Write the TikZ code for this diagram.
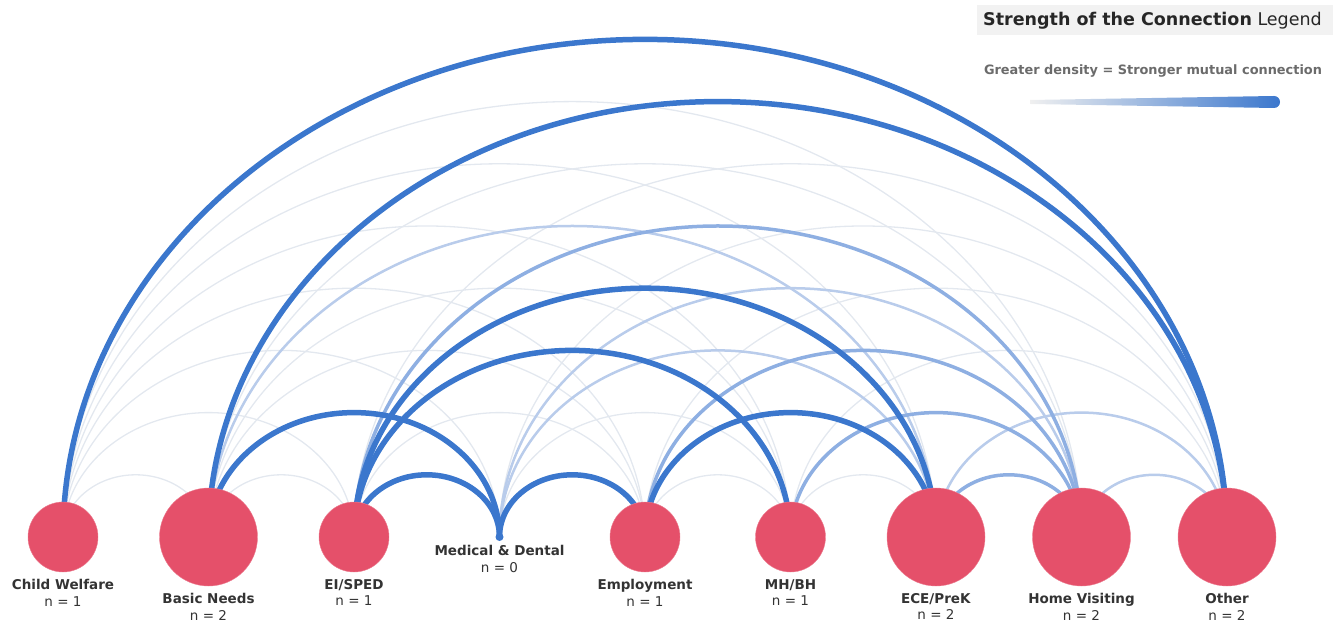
\documentclass[tikz,border=0pt]{standalone}
\usepackage{fontspec}
\setmainfont{DejaVu Sans}
\usetikzlibrary{calc,positioning,backgrounds}
\definecolor{hubred}{HTML}{E5506A}
\definecolor{arcdark}{HTML}{3B77CD}
\definecolor{arcmid}{HTML}{8EAFE2}
\definecolor{arclight}{HTML}{B9CCEB}
\definecolor{arcfaint}{HTML}{E3E8EF}
\definecolor{labelgray}{HTML}{333333}
\def\hubarc#1#2#3{\draw[#3] let \p1=(#1.center), \p2=(#2.center), \n1={(\x2-\x1)/2}, \n2={0.855*(\x2-\x1)/2} in (\p1) arc[start angle=180, end angle=0, x radius=\n1, y radius=\n2];}

\begin{document}
\begin{tikzpicture}
    [x=1pt,y=1pt,
    hub/.style={
      circle,
      fill=hubred,
      draw=hubred!75!white,
      inner sep=0pt,
      minimum size=70pt
    },
    bighub/.style={
      hub,
      minimum size=98pt
    },
    dothub/.style={
      circle,
      fill=arcdark,
      inner sep=0pt,
      minimum size=8pt
    },
    hublabel/.style={
      align=center,
      text=labelgray,
      inner sep=0pt,
      font=\fontsize{13.5}{16.5}\selectfont
    },
    strong/.style={draw=arcdark, line width=5.5pt},
    medium/.style={draw=arcmid, line width=3.5pt},
    weak/.style={draw=arclight, line width=2.5pt},
    faint/.style={draw=arcfaint, line width=1.3pt}
  ]
    \useasboundingbox (0,-84) rectangle (1335,537);
    % hubs along the baseline
    \node[hub] (A) at (63,0) {};
    \node[bighub] (B) at (208.5,0) {};
    \node[hub] (C) at (354,0) {};
    \node[dothub] (D) at (499.5,0) {};
    \node[hub] (E) at (645,0) {};
    \node[hub] (F) at (790.5,0) {};
    \node[bighub] (G) at (936,0) {};
    \node[bighub] (H) at (1081.5,0) {};
    \node[bighub] (I) at (1227,0) {};
    \node[hublabel, below=7pt of A] (LABEL1) {\textbf{Child Welfare}\\n = 1};
    \node[hublabel, below=7pt of B] (LABEL2) {\textbf{Basic Needs}\\n = 2};
    \node[hublabel, below=7pt of C] (LABEL3) {\textbf{EI/SPED}\\n = 1};
    \node[hublabel, below=4pt of D] (LABEL4) {\textbf{Medical \& Dental}\\n = 0};
    \node[hublabel, below=7pt of E] (LABEL5) {\textbf{Employment}\\n = 1};
    \node[hublabel, below=7pt of F] (LABEL6) {\textbf{MH/BH}\\n = 1};
    \node[hublabel, below=7pt of G] (LABEL7) {\textbf{ECE/PreK}\\n = 2};
    \node[hublabel, below=7pt of H] (LABEL8) {\textbf{Home Visiting}\\n = 2};
    \node[hublabel, below=7pt of I] (LABEL9) {\textbf{Other}\\n = 2};
    % arcs
    \begin{scope}[on background layer]
      \foreach \a [count=\i] in {A,...,H}
        \foreach \b [count=\k] in {B,...,I}
          {\ifnum\k<\i\else\hubarc{\a}{\b}{faint}\fi}
      \hubarc{B}{G}{weak}
      \hubarc{D}{G}{weak}
      \hubarc{D}{H}{weak}
      \hubarc{G}{I}{weak}
      \hubarc{H}{I}{weak}
      \hubarc{C}{H}{medium}
      \hubarc{E}{H}{medium}
      \hubarc{F}{H}{medium}
      \hubarc{G}{H}{medium}
      \hubarc{A}{I}{strong}
      \hubarc{B}{I}{strong}
      \hubarc{B}{D}{strong}
      \hubarc{C}{D}{strong}
      \hubarc{D}{E}{strong}
      \hubarc{C}{F}{strong}
      \hubarc{C}{G}{strong}
      \hubarc{E}{G}{strong}
    \end{scope}
    % legend
    \fill[black!5] (977,502) rectangle (1333,532);
    \node[anchor=west, inner sep=0pt, text=black!85, font=\fontsize{17.5}{20}\selectfont] (title) at (983,516) {\textbf{Strength of the Connection} Legend};
    \node[inner sep=0pt, text=black!58, font=\fontsize{12.9}{15}\selectfont\bfseries] (key) at (1153,466) {Greater density = Stronger mutual connection};
    \shade[left color=black!6, right color=arcdark] (1030,437) -- (1274,441) arc[start angle=90, end angle=-90, radius=6] -- (1030,433) -- cycle;
\end{tikzpicture}
\end{document}
